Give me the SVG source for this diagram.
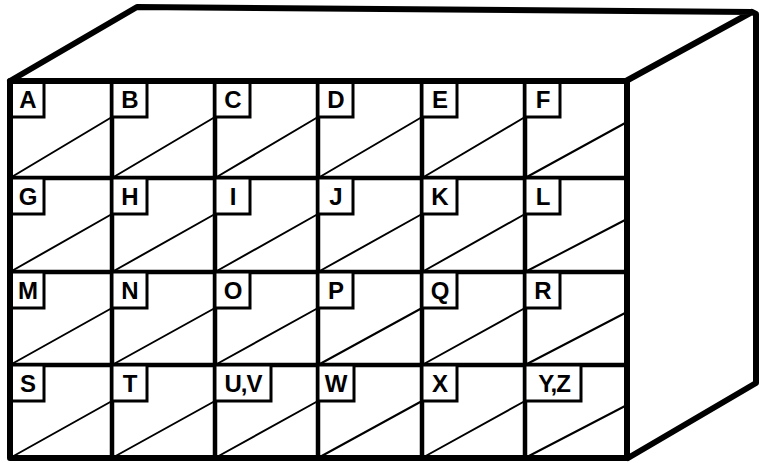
<svg xmlns="http://www.w3.org/2000/svg" width="759" height="463" viewBox="0 0 759 463">
<style>
.edge{fill:none;stroke:#000;stroke-width:6;stroke-linejoin:round;stroke-linecap:round}
.div{fill:none;stroke:#000;stroke-width:4.5}
.diag{stroke:#000;stroke-width:2}
.box{fill:#fff;stroke:#000;stroke-width:3}
.lbl{font-family:"Liberation Sans",Arial,sans-serif;font-weight:bold;font-size:24px;fill:#000;text-anchor:middle}
</style>
<rect width="759" height="463" fill="#fff"/>
<g id="cabinet">
<path class="edge" d="M10,81 L137,7 L752,12 L626,81 M752,12 L756,14 L756,383 L628,458"/>
</g>
<g id="grid">
<path class="div" d="M112,81V458 M215,81V458 M318,81V458 M422,81V458 M525,81V458 M10,178H627 M10,272H627 M10,365H627"/>
</g>
<g id="diagonals">
<path class="diag" d="M10,178L112,117 M112,178L215,117 M215,178L318,117 M318,178L422,117 M422,178L525,117 M525,178L627,122
M10,272L112,214 M112,272L215,214 M215,272L318,214 M318,272L422,214 M422,272L525,214 M525,272L627,219
M10,365L112,308 M112,365L215,308 M215,365L318,308 M318,365L422,308 M422,365L525,308 M525,365L627,312
M10,458L112,401 M112,458L215,401 M215,458L318,401 M318,458L422,401 M422,458L525,401 M525,458L627,405"/>
</g>
<g id="cell-A"><rect class="box" x="10" y="81" width="34" height="36"/><text class="lbl" x="28" y="108">A</text></g>
<g id="cell-B"><rect class="box" x="112" y="81" width="35" height="36"/><text class="lbl" x="130" y="108">B</text></g>
<g id="cell-C"><rect class="box" x="215" y="81" width="35" height="36"/><text class="lbl" x="233" y="108">C</text></g>
<g id="cell-D"><rect class="box" x="318" y="81" width="35" height="36"/><text class="lbl" x="336" y="108">D</text></g>
<g id="cell-E"><rect class="box" x="422" y="81" width="35" height="36"/><text class="lbl" x="440" y="108">E</text></g>
<g id="cell-F"><rect class="box" x="525" y="81" width="35" height="36"/><text class="lbl" x="543" y="108">F</text></g>
<g id="cell-G"><rect class="box" x="10" y="178" width="34" height="36"/><text class="lbl" x="28" y="205">G</text></g>
<g id="cell-H"><rect class="box" x="112" y="178" width="35" height="36"/><text class="lbl" x="130" y="205">H</text></g>
<g id="cell-I"><rect class="box" x="215" y="178" width="35" height="36"/><text class="lbl" x="233" y="205">I</text></g>
<g id="cell-J"><rect class="box" x="318" y="178" width="35" height="36"/><text class="lbl" x="336" y="205">J</text></g>
<g id="cell-K"><rect class="box" x="422" y="178" width="35" height="36"/><text class="lbl" x="440" y="205">K</text></g>
<g id="cell-L"><rect class="box" x="525" y="178" width="35" height="36"/><text class="lbl" x="543" y="205">L</text></g>
<g id="cell-M"><rect class="box" x="10" y="272" width="34" height="36"/><text class="lbl" x="28" y="299">M</text></g>
<g id="cell-N"><rect class="box" x="112" y="272" width="35" height="36"/><text class="lbl" x="130" y="299">N</text></g>
<g id="cell-O"><rect class="box" x="215" y="272" width="35" height="36"/><text class="lbl" x="233" y="299">O</text></g>
<g id="cell-P"><rect class="box" x="318" y="272" width="35" height="36"/><text class="lbl" x="336" y="299">P</text></g>
<g id="cell-Q"><rect class="box" x="422" y="272" width="35" height="36"/><text class="lbl" x="440" y="299">Q</text></g>
<g id="cell-R"><rect class="box" x="525" y="272" width="35" height="36"/><text class="lbl" x="543" y="299">R</text></g>
<g id="cell-S"><rect class="box" x="10" y="365" width="34" height="36"/><text class="lbl" x="28" y="392">S</text></g>
<g id="cell-T"><rect class="box" x="112" y="365" width="35" height="36"/><text class="lbl" x="130" y="392">T</text></g>
<g id="cell-UV"><rect class="box" x="215" y="365" width="56" height="36"/><text class="lbl" x="243" y="392" letter-spacing="-1">U,V</text></g>
<g id="cell-W"><rect class="box" x="318" y="365" width="36" height="36"/><text class="lbl" x="336" y="392">W</text></g>
<g id="cell-X"><rect class="box" x="422" y="365" width="35" height="36"/><text class="lbl" x="440" y="392">X</text></g>
<g id="cell-YZ"><rect class="box" x="525" y="365" width="56" height="36"/><text class="lbl" x="554" y="392" letter-spacing="-1">Y,Z</text></g>
<g id="front">
<rect class="edge" x="10" y="81" width="617" height="377" stroke-linejoin="miter"/>
</g>
</svg>
